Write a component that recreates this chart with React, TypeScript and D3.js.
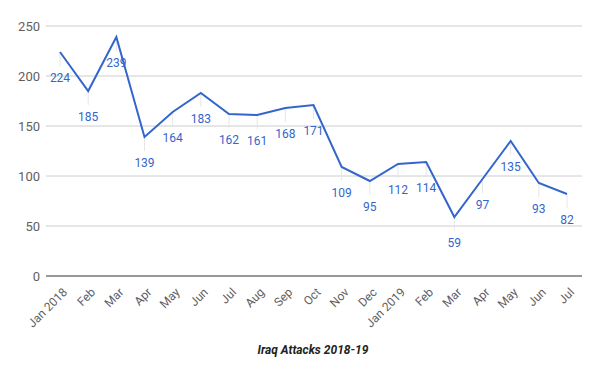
import React from "react";
import * as d3 from "d3";

const months = ["Jan 2018","Feb","Mar","Apr","May","Jun","Jul","Aug","Sep","Oct","Nov","Dec","Jan 2019","Feb","Mar","Apr","May","Jun","Jul"];
const attacks = [224,185,239,139,164,183,162,161,168,171,109,95,112,114,59,97,135,93,82];
const yTicks = [0,50,100,150,200,250];
const title = "Iraq Attacks 2018-19";

export default function App() {
  const W = 600, H = 376;
  const left = 46, right = 582, top = 26, bottom = 276;
  const x = d3.scalePoint<number>().domain(d3.range(months.length)).range([60, 567]);
  const y = d3.scaleLinear().domain([0, 250]).range([bottom, top]);
  const line = d3.line<number>().x((_, i) => x(i)!).y((d) => y(d));
  const font = "Roboto, Arial, sans-serif";
  return (
    <svg width={W} height={H} style={{ position: "absolute", left: 0, top: 0 }} fontFamily={font}>
      <rect width={W} height={H} fill="#fff" />
      {yTicks.map((t) => (
        <g key={t}>
          {t !== 0 && <line x1={left} x2={right} y1={y(t)} y2={y(t)} stroke="#cccccc" strokeWidth={1} />}
          <text x={40} y={y(t)} dy="0.35em" textAnchor="end" fontSize={13} fill="#5f5f5f">{t}</text>
        </g>
      ))}
      {attacks.map((d, i) => (
        <line key={"s" + i} x1={x(i)} x2={x(i)} y1={y(d)} y2={y(d) + 14} stroke="#e6e6e6" strokeWidth={1} />
      ))}
      <line x1={left} x2={right} y1={y(0)} y2={y(0)} stroke="#333" strokeWidth={1} />
      <path d={line(attacks) || ""} fill="none" stroke="#3366cc" strokeWidth={2} />
      {attacks.map((d, i) => (
        <text key={"l" + i} x={x(i)} y={y(d) + 26} dy="0.35em" textAnchor="middle" fontSize={12} fill="#3366cc">{d}</text>
      ))}
      {months.map((m, i) => (
        <text key={"m" + i} transform={`translate(${x(i)! + 5},${bottom + 14}) rotate(-45)`} textAnchor="end" dy="0.35em" fontSize={12} fill="#5f5f5f">{m}</text>
      ))}
      <text x={313} y={350} dy="0.35em" textAnchor="middle" fontSize={12} fontWeight="bold" fontStyle="italic" fill="#222">{title}</text>
    </svg>
  );
}
